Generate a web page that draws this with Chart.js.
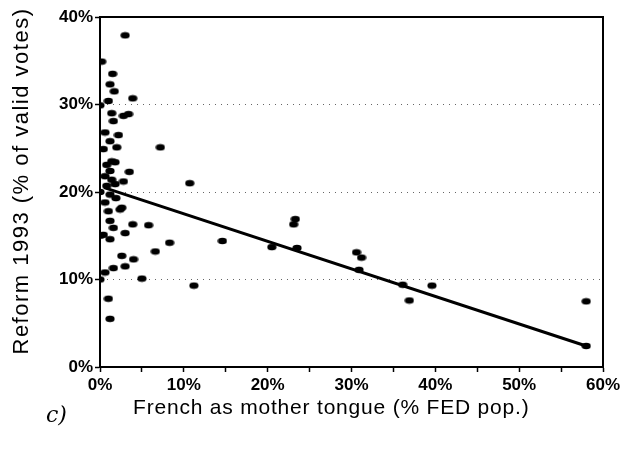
<!DOCTYPE html>
<html>
<head>
<meta charset="utf-8">
<script src="https://cdn.jsdelivr.net/npm/chart.js@4"></script>
<style>
  html, body { margin: 0; padding: 0; background: #fff; }
  #wrap { width: 641px; height: 460px; }
</style>
</head>
<body>
<div id="wrap"><canvas id="chart" width="641" height="460"></canvas></div>
<script>
// French as mother tongue (% of FED population), one entry per district
const frenchPct = [
    3.0, 0.2, 1.5, 1.2, 1.7, 3.9, 1.0, 0.0, 1.4, 2.8,
    3.4, 1.6, 0.6, 1.2, 2.0, 0.4, 7.2, 1.4, 0.8, 1.8,
    3.5, 1.2, 0.6, 1.4, 2.8, 10.7, 0.8, 1.8, 0.0, 1.2,
    2.6, 1.0, 2.4, 1.2, 3.9, 5.8, 1.6, 3.0, 0.4, 0.0,
    1.2, 8.3, 14.6, 20.5, 23.3, 23.1, 23.5, 6.6, 2.6, 4.0,
    3.0, 1.6, 0.6, 0.0, 5.0, 11.2, 1.0, 1.2, 30.6, 31.2,
    30.9, 39.6, 36.9, 36.1, 58.0, 58.0, 2.2, 1.9, 0.6
];
// Reform 1993 (% of valid votes), same order
const reformPct = [
    37.9, 34.9, 33.5, 32.3, 31.5, 30.7, 30.4, 29.9, 29.0, 28.7,
    28.9, 28.1, 26.8, 25.8, 25.1, 24.9, 25.1, 23.5, 23.1, 23.4,
    22.3, 22.4, 21.8, 21.4, 21.2, 21.0, 20.7, 20.9, 20.0, 19.7,
    18.2, 17.8, 18.0, 16.7, 16.3, 16.2, 15.9, 15.3, 15.1, 15.0,
    14.6, 14.2, 14.4, 13.7, 16.9, 16.3, 13.6, 13.2, 12.7, 12.3,
    11.5, 11.3, 10.8, 10.0, 10.1, 9.3, 7.8, 5.5, 13.1, 12.5,
    11.1, 9.3, 7.6, 9.4, 7.5, 2.4, 26.5, 19.3, 18.8
];
// fitted trend line end points
const trendX = [0.5, 58.0];
const trendY = [20.5, 2.4];

const xTitle = 'French as mother tongue (% FED pop.)';
const yTitle = 'Reform 1993 (% of valid votes)';
const panelMark = 'c)';

const sans = '"Liberation Sans", Arial, sans-serif';

// slightly flattened dot, like the scanned markers
const dot = document.createElement('canvas');
dot.width = 10; dot.height = 8;
(function() {
    const c = dot.getContext('2d');
    c.fillStyle = '#000';
    c.beginPath();
    c.ellipse(5, 4, 4.6, 3.3, 0, 0, Math.PI * 2);
    c.fill();
})();

const extras = {
    id: 'extras',
    afterDraw(chart) {
        const ctx = chart.ctx;
        const a = chart.chartArea;
        ctx.save();
        // frame top and right
        ctx.strokeStyle = '#000';
        ctx.lineWidth = 2;
        ctx.beginPath();
        ctx.moveTo(a.left, a.top);
        ctx.lineTo(a.right, a.top);
        ctx.lineTo(a.right, a.bottom);
        ctx.stroke();

        ctx.fillStyle = '#000';
        ctx.textBaseline = 'middle';
        ctx.font = '21px ' + sans;
        ctx.letterSpacing = '0.8px';
        // x axis title
        ctx.textAlign = 'left';
        ctx.fillText(xTitle, 133, 408);
        // y axis title
        ctx.save();
        ctx.font = '22px ' + sans;
        ctx.letterSpacing = '1.5px';
        ctx.translate(22, 181);
        ctx.rotate(-Math.PI / 2);
        ctx.textAlign = 'center';
        ctx.fillText(yTitle, 0, 0);
        ctx.restore();
        // handwritten panel mark
        ctx.letterSpacing = '0px';
        ctx.font = 'italic 22px "DejaVu Serif", serif';
        ctx.fillText(panelMark, 46, 416);
        ctx.restore();
    }
};

const tickFont = { family: sans, size: 17, weight: 'bold' };

new Chart(document.getElementById('chart'), {
    type: 'scatter',
    data: {
        datasets: [{
            label: 'Districts',
            data: frenchPct.map((x, i) => ({ x: x, y: reformPct[i] })),
            pointStyle: dot,
            pointRadius: 4,
            backgroundColor: '#000',
            borderColor: '#000'
        }, {
            type: 'line',
            label: 'Trend',
            data: trendX.map((x, i) => ({ x: x, y: trendY[i] })),
            borderColor: '#000',
            borderWidth: 3,
            pointRadius: 0,
            fill: false
        }]
    },
    options: {
        responsive: false,
        animation: false,
        layout: { padding: { top: 17, right: 38 } },
        plugins: {
            legend: { display: false },
            tooltip: { enabled: false }
        },
        scales: {
            x: {
                type: 'linear',
                min: 0,
                max: 60,
                afterFit: s => { s.height = 93; },
                ticks: {
                    stepSize: 5,
                    color: '#000',
                    font: tickFont,
                    padding: 3,
                    maxRotation: 0,
                    callback: v => (v % 10 === 0 ? v + '%' : '')
                },
                grid: {
                    drawOnChartArea: false,
                    tickLength: 5,
                    tickColor: '#000',
                    tickWidth: 1.5
                },
                border: { color: '#000', width: 2 }
            },
            y: {
                min: 0,
                max: 40,
                afterFit: s => { s.width = 100; },
                ticks: {
                    stepSize: 10,
                    color: '#000',
                    font: tickFont,
                    padding: 2,
                    callback: v => v + '%'
                },
                grid: {
                    color: ctx => (ctx.tick && ctx.tick.value > 0 && ctx.tick.value < 40) ? '#666' : 'transparent',
                    lineWidth: 1,
                    tickLength: 5,
                    tickColor: '#000',
                    tickWidth: 1.5
                },
                border: { color: '#000', width: 2, dash: [1, 5] }
            }
        }
    },
    plugins: [extras]
});
</script>
</body>
</html>
